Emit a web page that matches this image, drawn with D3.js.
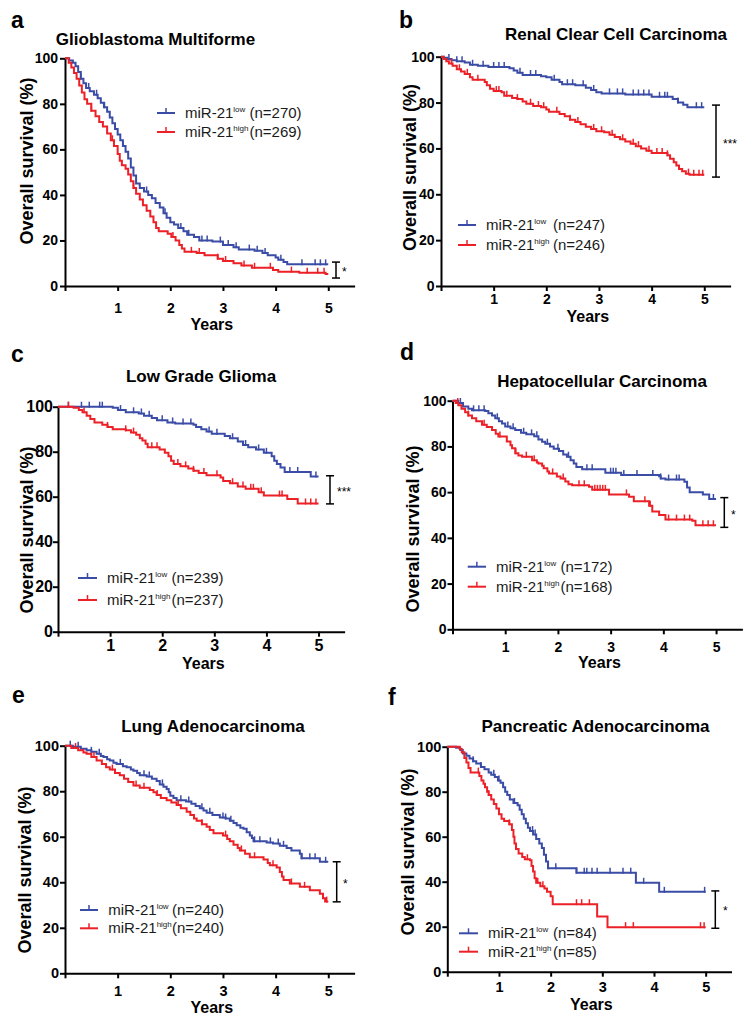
<!DOCTYPE html>
<html><head><meta charset="utf-8">
<script src="https://cdn.jsdelivr.net/npm/d3@7"></script>
<style>
html,body{margin:0;padding:0;background:#fff;}
svg{display:block;}
text{font-family:"Liberation Sans",Arial,Helvetica,sans-serif;}
</style></head>
<body>
<svg id="chart" width="752" height="1021"></svg>
<script>
// ---------- DATA (years, overall survival %) ----------
const yearTicks = [0, 1, 2, 3, 4, 5];
const survTicks = [0, 20, 40, 60, 80, 100];
const panelLetters = ["a", "b", "c", "d", "e", "f"];
const panelTitles = ["Glioblastoma Multiforme", "Renal Clear Cell Carcinoma", "Low Grade Glioma",
  "Hepatocellular Carcinoma", "Lung Adenocarcinoma", "Pancreatic Adenocarcinoma"];
const nLow = [270, 247, 239, 172, 240, 84];
const nHigh = [269, 246, 237, 168, 240, 85];
const sigLabels = ["*", "***", "***", "*", "*", "*"];
const sigSpan = [[10.5, 3.5], [78.9, 47.5], [69.3, 56.8], [57.6, 44.6], [49, 31.4], [35.9, 19.3]];

const gbmLow = [[0,100],[0.08,99],[0.15,98],[0.2,96.5],[0.25,94],[0.3,91],[0.35,89],[0.4,87],[0.47,85.5],[0.55,84],[0.62,82.5],[0.68,80.5],[0.74,78.5],[0.8,76.5],[0.85,74],[0.9,71.5],[0.95,69],[1.0,66.5],[1.05,64],[1.1,61.5],[1.15,59],[1.2,56],[1.25,52],[1.3,48.5],[1.35,45],[1.42,43],[1.5,41.5],[1.58,40],[1.65,38.5],[1.72,36.5],[1.8,34.5],[1.87,32],[1.93,30],[2.0,28],[2.07,27],[2.15,25.5],[2.25,24],[2.32,22.5],[2.45,21.5],[2.55,20],[2.8,19.5],[3.0,18],[3.2,17],[3.3,16],[3.6,15.5],[3.75,14.5],[3.85,13.5],[4.0,12.5],[4.05,11.5],[4.15,10.5],[4.22,9.5],[5.0,9.5]];
const gbmHigh = [[0,100],[0.07,98],[0.12,96],[0.17,93.5],[0.22,91],[0.27,88],[0.32,85],[0.37,82],[0.42,80],[0.5,77],[0.58,74.5],[0.65,72],[0.72,70],[0.8,67],[0.87,64],[0.93,61.5],[1.0,58],[1.04,55],[1.08,53],[1.15,51.5],[1.2,49],[1.25,46],[1.3,43],[1.35,40.5],[1.42,38],[1.48,35.5],[1.55,33],[1.62,30.5],[1.68,28],[1.73,25.5],[1.78,24],[1.95,23],[2.02,21.5],[2.1,20],[2.17,18],[2.22,16.5],[2.27,15],[2.5,14.5],[2.65,13.5],[2.9,12],[3.0,11],[3.2,10],[3.35,9],[3.55,8],[3.95,7],[4.05,6.3],[4.45,5.8],[4.95,5.3],[5.0,5.3]];
const rccLow = [[0,100],[0.05,99.5],[0.12,99],[0.2,98.5],[0.3,98],[0.45,97.5],[0.55,96.5],[0.7,96],[0.9,95.5],[1.3,95],[1.38,94],[1.45,93],[1.55,92],[1.9,91.5],[2.0,91],[2.1,90],[2.25,89],[2.3,88],[2.55,87.5],[2.75,86.5],[2.85,85.5],[2.95,84.5],[3.05,84],[3.5,83.5],[4.0,82.5],[4.4,81.5],[4.5,80],[4.6,79],[4.68,78],[5.0,78]];
const rccHigh = [[0,100],[0.05,99],[0.1,98],[0.15,97],[0.22,96],[0.3,94.5],[0.38,93.5],[0.45,92.5],[0.55,91],[0.6,90],[0.83,89],[0.87,87.5],[0.93,86],[1.0,85],[1.15,84.5],[1.2,83],[1.35,82],[1.45,81.5],[1.55,80.5],[1.62,79.5],[1.75,78.5],[1.9,78],[2.0,77],[2.05,76],[2.25,75],[2.35,74],[2.45,72.5],[2.55,71.5],[2.65,70.5],[2.75,69.5],[2.85,68.5],[2.95,67.5],[3.1,67],[3.2,66],[3.3,65],[3.4,64],[3.5,63],[3.6,62],[3.7,61],[3.8,60],[3.9,59],[4.0,58],[4.3,57],[4.35,55.5],[4.42,54],[4.47,52.5],[4.52,51],[4.58,50],[4.65,49],[4.72,48.5],[5.0,48.5]];
const lggLow = [[0,100],[1.05,99.5],[1.15,98.5],[1.3,97.5],[1.55,97],[1.65,96],[1.8,95],[1.9,94],[2.1,93],[2.25,92.5],[2.6,92],[2.65,91],[2.75,90],[2.85,89],[2.95,88],[3.2,87],[3.3,86],[3.45,84.5],[3.55,83],[3.65,82],[3.8,81],[3.95,79.5],[4.1,78],[4.15,76],[4.2,74.5],[4.27,73],[4.35,71],[4.85,69],[5.0,69]];
const lggHigh = [[0,100],[0.3,99.5],[0.4,98.5],[0.47,97.5],[0.55,96],[0.62,94.5],[0.7,93],[0.85,92],[0.95,91],[1.05,90],[1.3,89.5],[1.4,88.5],[1.5,87.5],[1.57,86],[1.62,85],[1.68,83.5],[1.72,82],[1.95,81],[2.05,79.5],[2.12,78],[2.17,76],[2.22,74.5],[2.35,73.5],[2.5,72.5],[2.6,71.5],[2.7,70.5],[2.85,69.5],[3.12,68.5],[3.17,67],[3.3,66],[3.45,64.5],[3.6,63.5],[3.85,62],[3.95,60.5],[4.4,59],[4.6,57],[5.0,57]];
const hccLow = [[0,100],[0.11,99],[0.2,97.5],[0.3,96.5],[0.37,95.8],[0.62,95.5],[0.68,94.5],[0.75,93.5],[0.81,92.3],[0.88,91],[0.94,90],[1.0,88.7],[1.1,88],[1.19,87.2],[1.3,86],[1.4,85.3],[1.55,84.5],[1.63,83],[1.7,82],[1.76,81.2],[1.85,80],[1.92,79],[2.02,78],[2.1,76.5],[2.17,75.5],[2.24,74],[2.3,72.5],[2.35,71],[2.46,70],[2.9,68.5],[3.2,67.5],[3.92,67],[3.95,66],[4.04,65.5],[4.4,64.5],[4.45,62],[4.5,60],[4.75,59],[4.87,57],[5.0,57]];
const hccHigh = [[0,100],[0.06,99],[0.11,98],[0.17,96.5],[0.24,95],[0.3,93.5],[0.37,92.3],[0.45,91],[0.56,89.5],[0.65,88.5],[0.75,87.2],[0.82,85.5],[0.87,84.3],[1.03,82.1],[1.1,80.5],[1.13,79.2],[1.19,77],[1.25,76],[1.32,75.5],[1.51,74],[1.6,73],[1.63,72.5],[1.7,71.5],[1.73,70.4],[1.8,69],[1.83,68.2],[1.98,66.8],[2.05,66],[2.14,64.6],[2.2,63.5],[2.27,63],[2.59,62.4],[2.65,61],[2.97,59],[3.35,58],[3.44,56],[3.73,54],[3.79,51.5],[3.92,50],[4.04,48],[4.55,47.5],[4.61,45.5],[5.0,45.5]];
const luadLow = [[0,100],[0.15,99.5],[0.3,98.7],[0.41,98],[0.5,97.3],[0.6,96.5],[0.68,95.5],[0.73,95],[0.8,94],[0.85,93.5],[0.92,92.5],[0.98,92],[1.1,91],[1.17,90.5],[1.25,89.5],[1.3,89],[1.37,88],[1.42,87],[1.55,86.5],[1.65,85.5],[1.74,84.5],[1.8,83],[1.87,82],[1.93,81],[1.97,79.5],[2.0,78],[2.06,77],[2.12,76],[2.3,75.5],[2.4,74.5],[2.48,73.5],[2.56,72.5],[2.63,71.5],[2.69,70.5],[2.8,69.5],[2.94,68.5],[3.05,68],[3.13,67],[3.2,66],[3.26,65],[3.33,64],[3.39,63.5],[3.45,62],[3.51,60.5],[3.55,59.5],[3.58,58],[3.83,57.5],[3.95,57],[4.08,56],[4.21,55],[4.3,54],[4.46,52.5],[4.49,50.5],[4.84,49],[5.0,49]];
const luadHigh = [[0,100],[0.12,99],[0.25,98],[0.35,97],[0.41,96.5],[0.5,95],[0.6,93.5],[0.7,92],[0.78,90.5],[0.85,89.5],[0.95,88],[1.04,87],[1.12,85.5],[1.2,84],[1.3,82.5],[1.42,81.5],[1.61,80.5],[1.68,79.5],[1.74,78.3],[1.82,77],[1.93,76],[2.02,75],[2.12,73.9],[2.2,72.5],[2.31,71],[2.38,69.5],[2.45,68],[2.5,67],[2.6,65.5],[2.69,64.4],[2.75,63],[2.82,61.5],[3.0,60.5],[3.08,59],[3.13,58],[3.2,56.5],[3.28,55],[3.32,54],[3.42,52.5],[3.51,51],[3.77,50],[3.85,48.5],[3.89,47.5],[4.02,46.5],[4.08,44.5],[4.12,42.5],[4.15,41],[4.27,39.5],[4.46,38],[4.65,36.5],[4.84,35],[4.9,33],[4.94,31.5],[5.0,31.5]];
const paadLow = [[0,100],[0.17,99.5],[0.25,98.5],[0.3,97],[0.37,96],[0.43,94.8],[0.5,93.5],[0.56,92.5],[0.65,91],[0.72,90],[0.8,88.5],[0.85,87.5],[0.92,86.5],[0.98,85],[1.03,84],[1.08,82],[1.12,80],[1.16,78.5],[1.21,76.5],[1.28,75],[1.36,74],[1.4,72],[1.44,70],[1.48,68],[1.52,66],[1.56,64],[1.6,62.5],[1.66,61],[1.72,59],[1.78,57],[1.83,55],[1.87,52],[1.91,49],[1.95,46],[2.5,44],[3.65,39.5],[4.1,35.5],[5.0,35.5]];
const paadHigh = [[0,100],[0.24,99],[0.28,97.5],[0.33,95],[0.37,93],[0.41,90.5],[0.45,88.5],[0.62,87],[0.66,85],[0.7,83.5],[0.73,82],[0.77,80],[0.8,78.5],[0.85,76.5],[0.9,74.5],[0.95,72.5],[1.0,70],[1.05,68],[1.1,67],[1.2,65.5],[1.25,63],[1.28,60],[1.3,57],[1.33,54.5],[1.38,52.5],[1.45,51],[1.5,50],[1.6,49.5],[1.63,47],[1.66,44.5],[1.69,41.5],[1.72,39.5],[1.8,38],[1.88,37],[1.93,35.5],[2.0,33.5],[2.04,30],[2.9,24.5],[3.1,19.8],[5.0,19.8]];

// censored observations (years)
const gbmLowCens = [0.3,0.45,0.6,0.75,1.1,1.55,1.9,2.2,2.35,2.6,2.7,2.95,3.1,3.25,3.5,3.65,3.8,4.1,4.5,4.75,4.85,4.95];
const gbmHighCens = [0.5,0.9,1.3,2.05,2.4,2.55,2.9,3.05,3.4,3.6,3.9,4.3,4.6,4.8,4.92];
const rccLowCens = [0.15,0.3,0.4,0.6,0.8,1.0,1.1,1.2,1.5,1.7,1.8,2.15,2.4,2.5,2.7,2.9,3.2,3.35,3.45,3.65,3.75,3.85,3.95,4.15,4.25,4.3,4.5,4.85,4.95];
const rccHighCens = [0.2,0.35,0.5,0.7,1.05,1.1,1.25,1.45,1.7,1.85,1.95,2.2,2.45,2.6,2.9,3.05,3.25,3.45,3.65,3.75,3.95,4.1,4.2,4.3,4.7,4.8,4.9,4.97];
const lggLowCens = [0.2,0.45,0.6,0.8,0.85,1.2,1.45,1.6,1.75,2.0,2.2,2.4,2.55,2.9,3.05,3.35,3.6,3.85,4.0,4.45,4.6,4.95];
const lggHighCens = [0.2,0.5,0.95,1.3,1.45,1.8,1.9,2.3,2.45,2.6,2.8,3.05,3.35,3.55,3.7,3.75,3.9,4.25,4.3,4.75,4.85,4.95];
const hccLowCens = [0.15,0.4,0.5,0.6,0.85,1.05,1.15,1.35,1.5,1.6,1.8,2.0,2.2,2.55,2.65,3.0,3.05,3.1,3.25,3.5,3.8,3.95,4.1,4.25,4.3,4.95];
const hccHighCens = [0.1,0.3,0.6,0.9,1.2,1.4,1.55,1.9,2.1,2.4,2.5,2.7,2.75,2.8,2.85,2.9,3.3,3.65,3.75,4.1,4.25,4.4,4.5,4.75,4.85,4.95];
const luadLowCens = [0.1,0.25,0.5,0.65,1.05,1.5,1.6,1.85,2.2,2.35,2.6,2.75,3.0,3.05,3.15,3.6,3.7,3.9,4.05,4.15,4.5,4.65,4.75,4.95];
const luadHighCens = [0.2,0.55,0.9,1.35,1.5,1.75,2.15,2.6,3.05,3.35,3.6,3.95,4.3,4.55,4.97];
const paadLowCens = [0.5,0.65,0.9,1.0,1.3,1.65,1.7,1.95,2.1,2.5,2.65,2.7,2.8,2.9,3.15,3.4,3.55,3.8,4.2,4.98];
const paadHighCens = [0.6,0.8,1.2,1.55,1.75,1.85,2.5,2.6,2.75,3.45,3.6,4.9,4.97];

const lowSeries = [gbmLow, rccLow, lggLow, hccLow, luadLow, paadLow];
const highSeries = [gbmHigh, rccHigh, lggHigh, hccHigh, luadHigh, paadHigh];
const lowCens = [gbmLowCens, rccLowCens, lggLowCens, hccLowCens, luadLowCens, paadLowCens];
const highCens = [gbmHighCens, rccHighCens, lggHighCens, hccHighCens, luadHighCens, paadHighCens];

// ---------- LAYOUT (per panel) ----------
const layouts = [
  {x0:65, x1:354.6, yb:286, yt:58.3, tf:14, xPad:12.4, yPad:2, yearsY:330, tx:155.5, ty:45, lx:11, ly:28, ylx:27, yly:161, lg0:157, lg1:175, lgy:[113,132], tX:185, nX:249.5, bx:336, sx:342, sy:270},
  {x0:441, x1:730.6, yb:286, yt:56.7, tf:14, xPad:3.2, yPad:1.5, yearsY:321.5, tx:616, ty:40, lx:399, ly:28, ylx:410, yly:167.5, lg0:458, lg1:476, lgy:[225,245], tX:486, nX:553, bx:716, sx:723, sy:142},
  {x0:58, x1:344.6, yb:631.7, yt:406.7, tf:16, xPad:3.3, yPad:0, yearsY:669, tx:201, ty:382, lx:11, ly:362, ylx:27, yly:530, lg0:78, lg1:97, lgy:[578,600], tX:107, nX:171.5, bx:330, sx:337, sy:490},
  {x0:452.5, x1:742.4, yb:629.3, yt:400.7, tf:14, xPad:7.3, yPad:1, yearsY:667.5, tx:602, ty:387, lx:400, ly:360, ylx:413, yly:529, lg0:467.7, lg1:486, lgy:[566.7,586.7], tX:496, nX:560.5, bx:724.3, sx:731, sy:512.7},
  {x0:65, x1:354.6, yb:973.3, yt:745.7, tf:14.5, xPad:7.3, yPad:1, yearsY:1013, tx:213, ty:731.7, lx:12, ly:703, ylx:25, yly:870, lg0:80, lg1:98, lgy:[910,928.3], tX:108.3, nX:172, bx:336.7, sx:343, sy:881.7},
  {x0:447.3, x1:731.5, yb:971.7, yt:746.7, tf:14.5, xPad:5.5, yPad:1, yearsY:1009.5, tx:595.5, ty:731.7, lx:388, ly:705, ylx:408, yly:852, lg0:459, lg1:478, lgy:[933.3,951.7], tX:488, nX:553, bx:715.3, sx:723, sy:909}
];

const BLUE = "#3a4ca6", RED = "#ec2127";
const svg = d3.select("#chart");
svg.append("rect").attr("width", 752).attr("height", 1021).attr("fill", "#fff");

function survAt(pts, t) { let s = 100; for (const [ti, si] of pts) if (ti <= t) s = si; return s; }

layouts.forEach((L, i) => {
  const g = svg.append("g");
  const x = d3.scaleLinear().domain([0, 5.5]).range([L.x0, L.x1]);
  const y = d3.scaleLinear().domain([0, 100]).range([L.yb, L.yt]);

  // axes
  const xa = g.append("g").attr("transform", `translate(0,${L.yb})`)
    .call(d3.axisBottom(x).tickValues(yearTicks).tickFormat(d => d === 0 ? "" : d).tickSize(5).tickSizeOuter(0).tickPadding(L.xPad));
  const ya = g.append("g").attr("transform", `translate(${L.x0},0)`)
    .call(d3.axisLeft(y).tickValues(survTicks).tickSize(5).tickSizeOuter(0).tickPadding(L.yPad));
  [xa, ya].forEach(a => {
    a.select(".domain").attr("stroke", "#000").attr("stroke-width", 2);
    a.selectAll(".tick line").attr("stroke", "#000").attr("stroke-width", 2);
    a.selectAll(".tick text").attr("fill", "#000").attr("font-size", L.tf).attr("font-weight", "bold")
      .attr("font-family", '"Liberation Sans", Arial, sans-serif');
  });

  // curves
  const line = d3.line().x(d => x(d[0])).y(d => y(d[1])).curve(d3.curveStepAfter);
  const series = [[lowSeries[i], lowCens[i], BLUE], [highSeries[i], highCens[i], RED]];
  series.forEach(([pts, cens, col]) => {
    g.append("path").datum(pts).attr("d", line).attr("fill", "none").attr("stroke", col).attr("stroke-width", 2);
    g.selectAll(null).data(cens).enter().append("line")
      .attr("x1", d => x(d)).attr("x2", d => x(d))
      .attr("y1", d => y(survAt(pts, d)) + 1).attr("y2", d => y(survAt(pts, d)) - 5)
      .attr("stroke", col).attr("stroke-width", 1.5);
  });

  // significance bracket
  const [sTop, sBot] = sigSpan[i];
  const bg = g.append("g").attr("stroke", "#000").attr("stroke-width", 1.5);
  bg.append("line").attr("x1", L.bx).attr("x2", L.bx).attr("y1", y(sTop)).attr("y2", y(sBot));
  bg.append("line").attr("x1", L.bx - 4).attr("x2", L.bx + 4).attr("y1", y(sTop)).attr("y2", y(sTop));
  bg.append("line").attr("x1", L.bx - 4).attr("x2", L.bx + 4).attr("y1", y(sBot)).attr("y2", y(sBot));
  g.append("text").attr("x", L.sx).attr("y", L.sy + 6).attr("font-size", 12).attr("fill", "#000").text(sigLabels[i]);

  // texts
  g.append("text").attr("x", L.lx).attr("y", L.ly).attr("font-size", 23).attr("font-weight", "bold").text(panelLetters[i]);
  g.append("text").attr("x", L.tx).attr("y", L.ty).attr("text-anchor", "middle").attr("font-size", 17).attr("font-weight", "bold").text(panelTitles[i]);
  g.append("text").attr("transform", `translate(${L.ylx},${L.yly}) rotate(-90)`).attr("text-anchor", "middle")
    .attr("dy", "0.35em").attr("font-size", 18).attr("font-weight", "bold").text("Overall survival (%)");
  g.append("text").attr("x", (x(0) + x(5.5)) / 2 + 2).attr("y", L.yearsY).attr("text-anchor", "middle")
    .attr("font-size", 16).attr("font-weight", "bold").text("Years");

  // legend
  const legendRows = [["low", nLow[i], BLUE], ["high", nHigh[i], RED]];
  legendRows.forEach(([sup, n, col], k) => {
    const ly = L.lgy[k];
    g.append("line").attr("x1", L.lg0).attr("x2", L.lg1).attr("y1", ly).attr("y2", ly).attr("stroke", col).attr("stroke-width", 2);
    const cx = (L.lg0 + L.lg1) / 2;
    g.append("line").attr("x1", cx).attr("x2", cx).attr("y1", ly).attr("y2", ly - 5).attr("stroke", col).attr("stroke-width", 1.5);
    const t = g.append("text").attr("x", L.tX).attr("y", ly + 5).attr("font-size", 15).attr("fill", "#1a1a1a");
    t.append("tspan").text("miR-21");
    t.append("tspan").attr("dy", -6).attr("font-size", 8).text(sup);
    g.append("text").attr("x", L.nX).attr("y", ly + 5).attr("font-size", 15).attr("fill", "#1a1a1a").text(`(n=${n})`);
  });
});
</script>
</body></html>
